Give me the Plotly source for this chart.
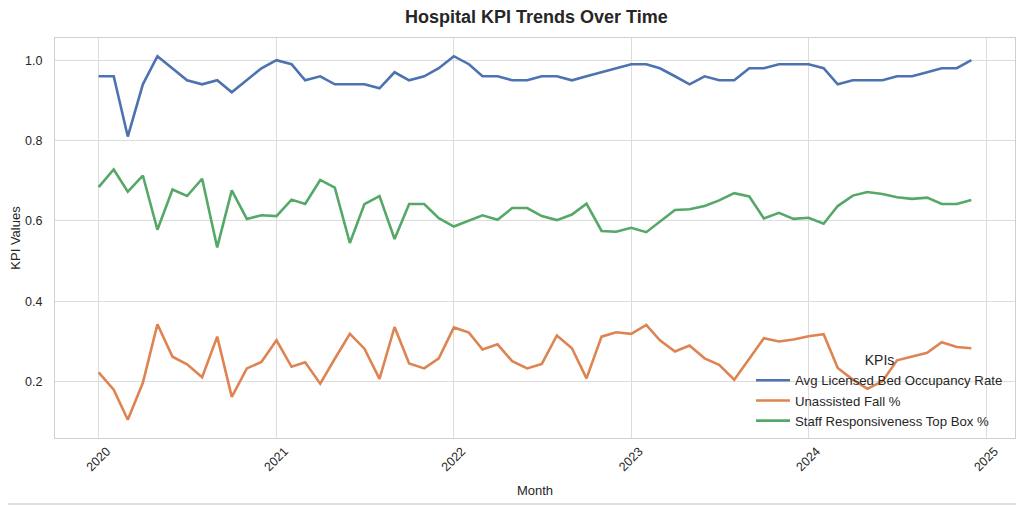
import pandas as pd
import plotly.graph_objects as go

months = pd.date_range("2020-01-01", periods=60, freq="MS")

occupancy = [0.96, 0.96, 0.81, 0.94, 1.01, 0.98, 0.95, 0.94, 0.95, 0.92, 0.95, 0.98,
             1.00, 0.99, 0.95, 0.96, 0.94, 0.94, 0.94, 0.93, 0.97, 0.95, 0.96, 0.98,
             1.01, 0.99, 0.96, 0.96, 0.95, 0.95, 0.96, 0.96, 0.95, 0.96, 0.97, 0.98,
             0.99, 0.99, 0.98, 0.96, 0.94, 0.96, 0.95, 0.95, 0.98, 0.98, 0.99, 0.99,
             0.99, 0.98, 0.94, 0.95, 0.95, 0.95, 0.96, 0.96, 0.97, 0.98, 0.98, 1.00]

falls = [0.223, 0.180, 0.105, 0.197, 0.343, 0.262, 0.243, 0.211, 0.312, 0.162, 0.233, 0.249,
         0.303, 0.237, 0.248, 0.195, 0.257, 0.319, 0.282, 0.207, 0.336, 0.245, 0.233, 0.258,
         0.335, 0.322, 0.280, 0.293, 0.251, 0.233, 0.244, 0.315, 0.283, 0.208, 0.312, 0.323,
         0.319, 0.341, 0.303, 0.275, 0.290, 0.258, 0.242, 0.205, 0.257, 0.308, 0.300, 0.305,
         0.313, 0.318, 0.234, 0.205, 0.182, 0.201, 0.253, 0.263, 0.272, 0.298, 0.286, 0.283]

responsiveness = [0.684, 0.728, 0.673, 0.713, 0.578, 0.678, 0.662, 0.705, 0.534, 0.676, 0.605, 0.614,
                  0.612, 0.653, 0.642, 0.702, 0.683, 0.545, 0.642, 0.662, 0.555, 0.642, 0.642, 0.607,
                  0.586, 0.600, 0.614, 0.603, 0.632, 0.632, 0.612, 0.602, 0.616, 0.643, 0.575, 0.573,
                  0.583, 0.572, 0.598, 0.627, 0.629, 0.637, 0.651, 0.669, 0.661, 0.606, 0.620, 0.605,
                  0.608, 0.593, 0.637, 0.663, 0.672, 0.667, 0.659, 0.655, 0.658, 0.642, 0.642, 0.652]

series_names = ["Avg Licensed Bed Occupancy Rate", "Unassisted Fall %", "Staff Responsiveness Top Box %"]
series_values = [occupancy, falls, responsiveness]
series_colors = ["#4c72b0", "#dd8452", "#55a868"]

FONT = "Liberation Sans, Arial, sans-serif"
TXT = "#262626"

fig = go.Figure()
for name, vals, col in zip(series_names, series_values, series_colors):
    fig.add_trace(go.Scatter(x=months, y=vals, mode="lines", name=name,
                             line=dict(color=col, width=2.6)))

# matplotlib-like 5% margins
allv = occupancy + falls + responsiveness
vmin, vmax = min(allv), max(allv)
span = vmax - vmin
t0, t1 = months[0], months[-1]
tspan = t1 - t0

ML, MR, MT, MB = 47, 17, 30, 75
W, H = 1024, 505
pw = W - ML - MR
ph = H - MT - MB

fig.update_layout(
    width=W, height=H,
    margin=dict(l=ML, r=MR, t=MT, b=MB, autoexpand=False),
    paper_bgcolor="white", plot_bgcolor="white",
    font=dict(family=FONT, size=13, color=TXT),
    title=dict(text="<b>Hospital KPI Trends Over Time</b>", x=0.516, xanchor="center",
               y=0.983, yanchor="middle", font=dict(size=18, color=TXT, family=FONT)),
    showlegend=True,
    legend=dict(
        title=dict(text="KPIs", side="top center", font=dict(size=14, color=TXT)),
        x=0.725, xanchor="left", y=0.005, yanchor="bottom",
        bgcolor="rgba(255,255,255,0)", borderwidth=0,
        font=dict(size=13.2, color=TXT),
        itemwidth=34, tracegroupgap=0,
    ),
    shapes=[dict(type="line", xref="paper", yref="paper",
                 x0=-ML / pw, x1=(W - 8 - ML) / pw,
                 y0=-(MB - 9) / ph, y1=-(MB - 9) / ph,
                 line=dict(color="#d4d4d4", width=1.5))],
)

fig.update_xaxes(
    range=[t0 - tspan * 0.05, t1 + tspan * 0.05],
    tickformat="%Y", dtick="M12", tick0="2020-01-01", tickangle=-45,
    ticklabelshift=8,
    showgrid=True, gridcolor="#dcdcdc", gridwidth=1.2,
    showline=True, linecolor="#cfcfcf", linewidth=1.2, mirror=True,
    zeroline=False, ticks="", automargin=False,
    title=dict(text="Month", font=dict(size=13, color=TXT), standoff=12),
    tickfont=dict(size=12.5, color=TXT),
)
fig.update_yaxes(
    range=[vmin - span * 0.05, vmax + span * 0.05],
    dtick=0.2, tick0=0, tickformat=".1f",
    showgrid=True, gridcolor="#dcdcdc", gridwidth=1.2,
    showline=True, linecolor="#cfcfcf", linewidth=1.2, mirror=True,
    zeroline=False, ticks="", automargin=False, ticklabelstandoff=9,
    title=dict(text="KPI Values", font=dict(size=13, color=TXT), standoff=8),
    tickfont=dict(size=12.5, color=TXT),
)

fig.write_html("out.html")
